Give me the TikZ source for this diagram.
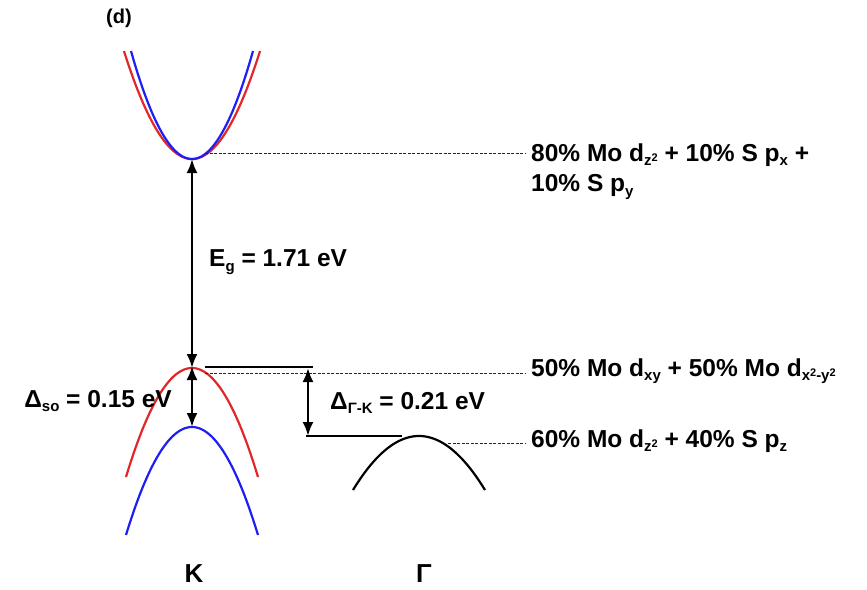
\documentclass[tikz,border=0pt]{standalone}
\usepackage{fontspec}
\setmainfont{Liberation Sans}
\usetikzlibrary{arrows.meta}
\newcommand{\sbs}[1]{\raisebox{-0.35ex}{\fontsize{15}{15}\selectfont #1}}
\newcommand{\sps}[1]{\raisebox{0.55ex}{\fontsize{11}{11}\selectfont #1}}
\begin{document}
\begin{tikzpicture}[x=1pt,y=-1pt,
  lbl/.style={font=\fontsize{24.5}{30}\selectfont\bfseries, inner sep=0pt},
  rlbl/.style={lbl, anchor=west},
  dline/.style={dash pattern=on 3pt off 1.5pt, line width=1pt, black!85},
  sline/.style={line width=2.2pt, black},
  dbl/.style={line width=2.4pt, {Latex[length=14pt,width=11pt]}-{Latex[length=14pt,width=11pt]}},
  redc/.style={line width=2.2pt, color={rgb,255:red,225;green,40;blue,40}},
  bluec/.style={line width=2.2pt, color={rgb,255:red,30;green,30;blue,245}},
  blkc/.style={line width=2.2pt, black}]
\useasboundingbox (0,0) rectangle (867,589);
% coordinates
\coordinate (cbm) at (192,159);
\coordinate (vbm) at (192,368);
\coordinate (vb2) at (192,427);
\coordinate (d1a) at (205,153);
\coordinate (d1b) at (525,153);
\coordinate (d2a) at (205,373);
\coordinate (d2b) at (525,373);
\coordinate (d3a) at (448,443);
\coordinate (d3b) at (525,443);
\coordinate (s1a) at (205,367);
\coordinate (s1b) at (313,367);
\coordinate (s2a) at (306,436);
\coordinate (s2b) at (402,436);
\coordinate (gk1) at (308,368);
\coordinate (gk2) at (308,436);
% bands
\draw[redc] plot[domain=-68:68,samples=80] ({192+\x},{159-108*(\x/68)^2});
\draw[bluec] plot[domain=-61:61,samples=80] ({192+\x},{159-108*(\x/61)^2});
\draw[redc] plot[domain=-66:66,samples=80] ({192+\x},{368+109*(\x/66)^2});
\draw[bluec] plot[domain=-66:66,samples=80] ({192+\x},{427+108*(\x/66)^2});
\draw[blkc] plot[domain=-66:66,samples=80] ({419+\x},{436+54*(\x/66)^2});
% lines
\draw[dline] (d1a) -- (d1b);
\draw[dline] (d2a) -- (d2b);
\draw[dline] (d3a) -- (d3b);
\draw[sline] (s1a) -- (s1b);
\draw[sline] (s2a) -- (s2b);
% arrows
\draw[dbl] (cbm) -- (vbm);
\draw[dbl] ([yshift=2pt]vbm) -- (vb2);
\draw[dbl] (gk1) -- (gk2);
% labels
\node[lbl, font=\fontsize{20}{22}\selectfont\bfseries] (d) at (119,18) {(d)};
\node[lbl, anchor=west] (eg) at (209,262) {E\sbs{g} = 1.71 eV};
\node[lbl, anchor=east] (so) at (172,401) {Δ\sbs{so} = 0.15 eV};
\node[lbl, anchor=west] (gk) at (330,403) {Δ\sbs{Γ-K} = 0.21 eV};
\node[rlbl] (t1) at (531,155) {80\% Mo d\sbs{z\sps{2}} + 10\% S p\sbs{x} +};
\node[rlbl] (t1b) at (531,187) {10\% S p\sbs{y}};
\node[rlbl] (t2) at (531,371) {50\% Mo d\sbs{xy} + 50\% Mo d\sbs{x\sps{2}-y\sps{2}}};
\node[rlbl] (t3) at (531,441) {60\% Mo d\sbs{z\sps{2}} + 40\% S p\sbs{z}};
\node[lbl, font=\fontsize{26}{30}\selectfont\bfseries] (K) at (194,574) {K};
\node[lbl, font=\fontsize{26}{30}\selectfont\bfseries] (G) at (424,574) {Γ};
\end{tikzpicture}
\end{document}
